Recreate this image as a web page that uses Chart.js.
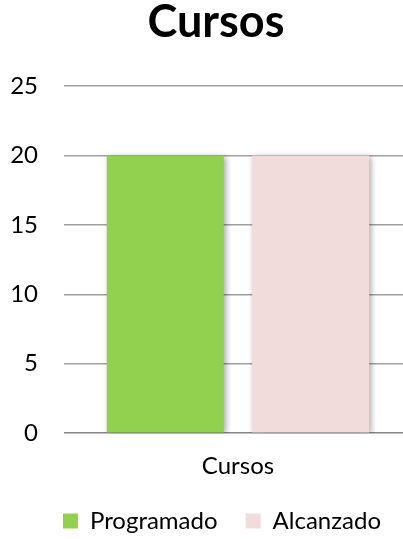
<!DOCTYPE html>
<html>
<head>
<meta charset="utf-8">
<script src="https://cdn.jsdelivr.net/npm/chart.js@4"></script>
<style>
  html, body { margin: 0; padding: 0; background: #fff; overflow: hidden; }
  #wrap { width: 403px; height: 539px; overflow: hidden; }
</style>
</head>
<body>
<div id="wrap"><canvas id="chart" width="433" height="539"></canvas></div>
<script>
// datos del gráfico
const categorias = ['Cursos'];
const programado = [20];
const alcanzado = [20];
const ticksY = [0, 5, 10, 15, 20, 25];

// sombra suave detrás de las barras
const sombra = {
    id: 'sombra',
    beforeDatasetsDraw(chart) {
        const ctx = chart.ctx;
        ctx.save();
        ctx.shadowColor = 'rgba(0, 0, 0, 0.35)';
        ctx.shadowBlur = 6;
        ctx.shadowOffsetX = 2;
        ctx.shadowOffsetY = 2;
    },
    afterDatasetsDraw(chart) {
        chart.ctx.restore();
    }
};

// la leyenda ocupa menos alto en el layout (el padding de 28 es para la separación horizontal)
const alturaLeyenda = {
    id: 'alturaLeyenda',
    afterInit(chart) {
        const leyenda = chart.legend;
        const fitOriginal = leyenda.fit;
        leyenda.fit = function () {
            fitOriginal.call(this);
            this.height = 47;
        };
    },
    // mover título y leyenda un poco, como en el original
    afterLayout(chart) {
        const t = chart.titleBlock;
        t.left += 10; t.right += 10;
        t.top -= 3; t.bottom -= 3;
        const l = chart.legend;
        l.left += 16; l.right += 16;
        l.top = l.bottom - 58;
        l.height = 58;
    }
};

const ctx = document.getElementById('chart').getContext('2d');
const chart = new Chart(ctx, {
    type: 'bar',
    data: {
        labels: categorias,
        datasets: [{
            label: 'Programado',
            data: programado,
            backgroundColor: '#92D050',
            categoryPercentage: 0.836,
            barPercentage: 0.804
        }, {
            label: 'Alcanzado',
            data: alcanzado,
            backgroundColor: '#F2DCDB',
            categoryPercentage: 0.836,
            barPercentage: 0.804
        }]
    },
    options: {
        responsive: false,
        animation: false,
        layout: { padding: { left: 0, right: 21, top: -2, bottom: 0 } },
        plugins: {
            title: {
                display: true,
                text: 'Cursos',
                color: '#000',
                font: { family: 'Lato', size: 45, weight: 'bold' },
                padding: { top: 0, bottom: 34 }
            },
            legend: {
                position: 'bottom',
                labels: {
                    color: '#000',
                    font: { family: 'Lato', size: 24 },
                    boxWidth: 15,
                    boxHeight: 15,
                    padding: 28
                }
            },
            tooltip: { enabled: false }
        },
        scales: {
            x: {
                grid: { display: false },
                border: { display: false },
                ticks: {
                    color: '#000',
                    font: { family: 'Lato', size: 24 },
                    padding: 11
                }
            },
            y: {
                min: 0,
                max: 25,
                afterBuildTicks(scale) {
                    scale.ticks = ticksY.map(v => ({ value: v }));
                },
                afterFit(scale) {
                    scale.width = 64;
                },
                border: { display: false },
                grid: {
                    drawTicks: false,
                    color: c => c.tick.value === 0 ? '#868686' : '#a0a0a0',
                    lineWidth: 1.5
                },
                ticks: {
                    color: '#000',
                    font: { family: 'Lato', size: 24 },
                    padding: 26
                }
            }
        }
    },
    plugins: [sombra, alturaLeyenda]
});
</script>
</body>
</html>
